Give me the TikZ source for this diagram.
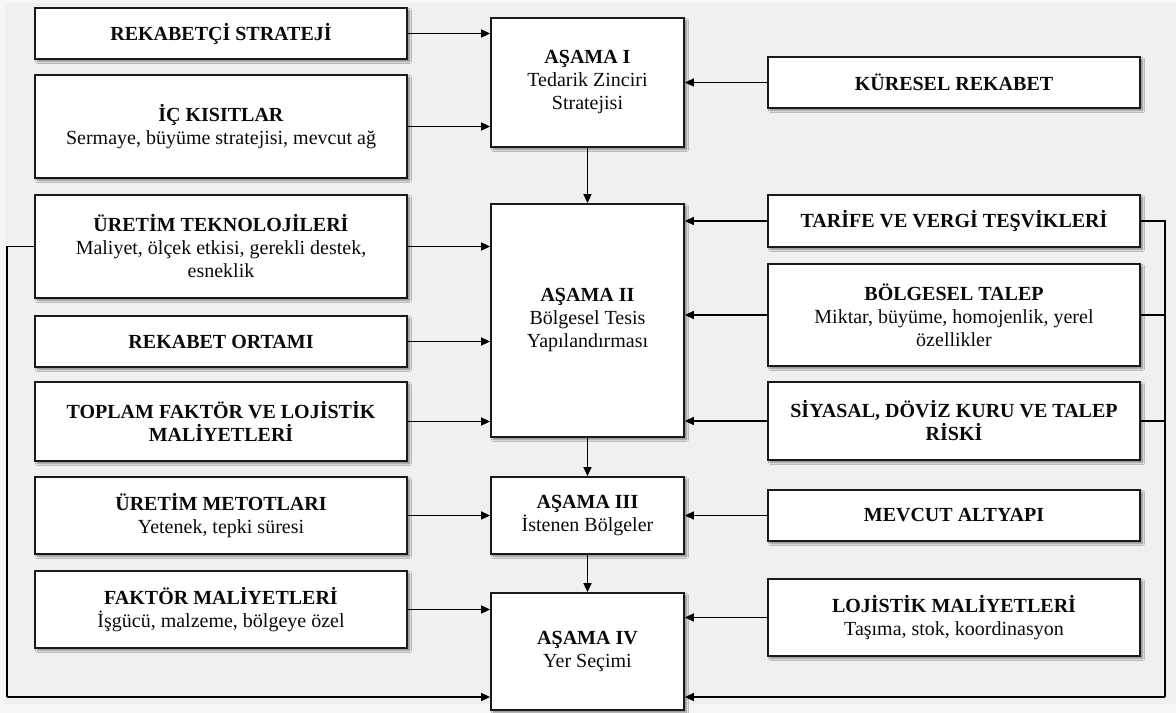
\documentclass[tikz,border=0pt]{standalone}
\usepackage{fontspec}
\setmainfont{Liberation Serif}
\usetikzlibrary{arrows.meta,shadows.blur}
\definecolor{pageouter}{HTML}{F6F6F6}
\definecolor{pagebg}{HTML}{F0F0F0}
\definecolor{boxline}{HTML}{1A1A1A}
\definecolor{ink}{HTML}{0A0A0A}
\begin{document}
\begin{tikzpicture}[x=1bp,y=-1bp,
  box/.style={draw=boxline, line width=1.8bp, fill=white, align=center,
    inner sep=2bp, text=ink, font=\fontsize{20bp}{23bp}\selectfont,
    blur shadow={shadow xshift=2.5bp, shadow yshift=-2.5bp,
      shadow blur steps=5, shadow blur radius=2bp, shadow opacity=45}},
  sidebox/.style={box, minimum width=372bp},
  stagebox/.style={box, minimum width=193bp},
  link/.style={line width=1.6bp, draw=black},
  flow/.style={link, -{Triangle[length=9bp,width=8bp]}}]

% page and canvas
\useasboundingbox (0,0) rectangle (1176,713);
\fill[pageouter] (0,0) rectangle (1176,713);
\fill[pagebg] (5,3) rectangle (1176,704);

% left column: factors
\node[sidebox, minimum height=51bp]  (rs)  at (221,33.5)  {\textbf{REKABETÇİ STRATEJİ}};
\node[sidebox, minimum height=103bp] (ick) at (221,126.5) {\textbf{İÇ KISITLAR}\\Sermaye, büyüme stratejisi, mevcut ağ};
\node[sidebox, minimum height=103bp] (ut)  at (221,246.5) {\textbf{ÜRETİM TEKNOLOJİLERİ}\\Maliyet, ölçek etkisi, gerekli destek,\\esneklik};
\node[sidebox, minimum height=51bp]  (ro)  at (221,341.5) {\textbf{REKABET ORTAMI}};
\node[sidebox, minimum height=79bp]  (tf)  at (221,421.5) {\textbf{TOPLAM FAKTÖR VE LOJİSTİK}\\\textbf{MALİYETLERİ}};
\node[sidebox, minimum height=77bp]  (um)  at (221,515.5) {\textbf{ÜRETİM METOTLARI}\\Yetenek, tepki süresi};
\node[sidebox, minimum height=77bp]  (fm)  at (221,609.5) {\textbf{FAKTÖR MALİYETLERİ}\\İşgücü, malzeme, bölgeye özel};

% centre column: stages
\node[stagebox, minimum height=129bp] (a1) at (587.5,82.5)  {\textbf{AŞAMA I}\\Tedarik Zinciri\\Stratejisi};
\node[stagebox, minimum height=233bp] (a2) at (587.5,320.5) {\textbf{AŞAMA II}\\Bölgesel Tesis\\Yapılandırması};
\node[stagebox, minimum height=77bp]  (a3) at (587.5,515.5) {\textbf{AŞAMA III}\\İstenen Bölgeler};
\node[stagebox, minimum height=117bp] (a4) at (587.5,651.5) {\textbf{AŞAMA IV}\\Yer Seçimi};

% right column: factors
\node[sidebox, minimum height=51bp]  (kr) at (954,82.5)  {\textbf{KÜRESEL REKABET}};
\node[sidebox, minimum height=52bp]  (tv) at (954,221)   {\textbf{TARİFE VE VERGİ TEŞVİKLERİ}};
\node[sidebox, minimum height=102bp] (bt) at (954,315)   {\textbf{BÖLGESEL TALEP}\\Miktar, büyüme, homojenlik, yerel\\özellikler};
\node[sidebox, minimum height=78bp]  (sd) at (954,421)   {\textbf{SİYASAL, DÖVİZ KURU VE TALEP}\\\textbf{RİSKİ}};
\node[sidebox, minimum height=51bp]  (ma) at (954,515.5) {\textbf{MEVCUT ALTYAPI}};
\node[sidebox, minimum height=77bp]  (lm) at (954,617.5) {\textbf{LOJİSTİK MALİYETLERİ}\\Taşıma, stok, koordinasyon};

% stage sequence
\draw[flow] (a1.south) -- (a2.north);
\draw[flow] (a2.south) -- (a3.north);
\draw[flow] (a3.south) -- (a4.north);

% inputs from the left
\draw[flow] (rs.east)  -- (rs.east  -| a1.west);
\draw[flow] (ick.east) -- (ick.east -| a1.west);
\draw[flow] (ut.east)  -- (ut.east  -| a2.west);
\draw[flow] (ro.east)  -- (ro.east  -| a2.west);
\draw[flow] (tf.east)  -- (tf.east  -| a2.west);
\draw[flow] (um.east)  -- (um.east  -| a3.west);
\draw[flow] (fm.east)  -- (fm.east  -| a4.west);

% inputs from the right
\draw[flow] (kr.west) -- (kr.west -| a1.east);
\draw[flow] (tv.west) -- (tv.west -| a2.east);
\draw[flow] (bt.west) -- (bt.west -| a2.east);
\draw[flow] (sd.west) -- (sd.west -| a2.east);
\draw[flow] (ma.west) -- (ma.west -| a3.east);
\draw[flow] (lm.west) -- (lm.west -| a4.east);

% feedback loops into the site selection stage
\coordinate (lb) at (7,697);
\coordinate (rb) at (1165,697);
\draw[link] (ut.west) -| (lb);
\draw[flow] (lb) -- (lb -| a4.west);
\draw[link] (tv.east) -| (rb);
\draw[link] (bt.east) -- (bt.east -| rb);
\draw[link] (sd.east) -- (sd.east -| rb);
\draw[flow] (rb) -- (rb -| a4.east);
\end{tikzpicture}
\end{document}
